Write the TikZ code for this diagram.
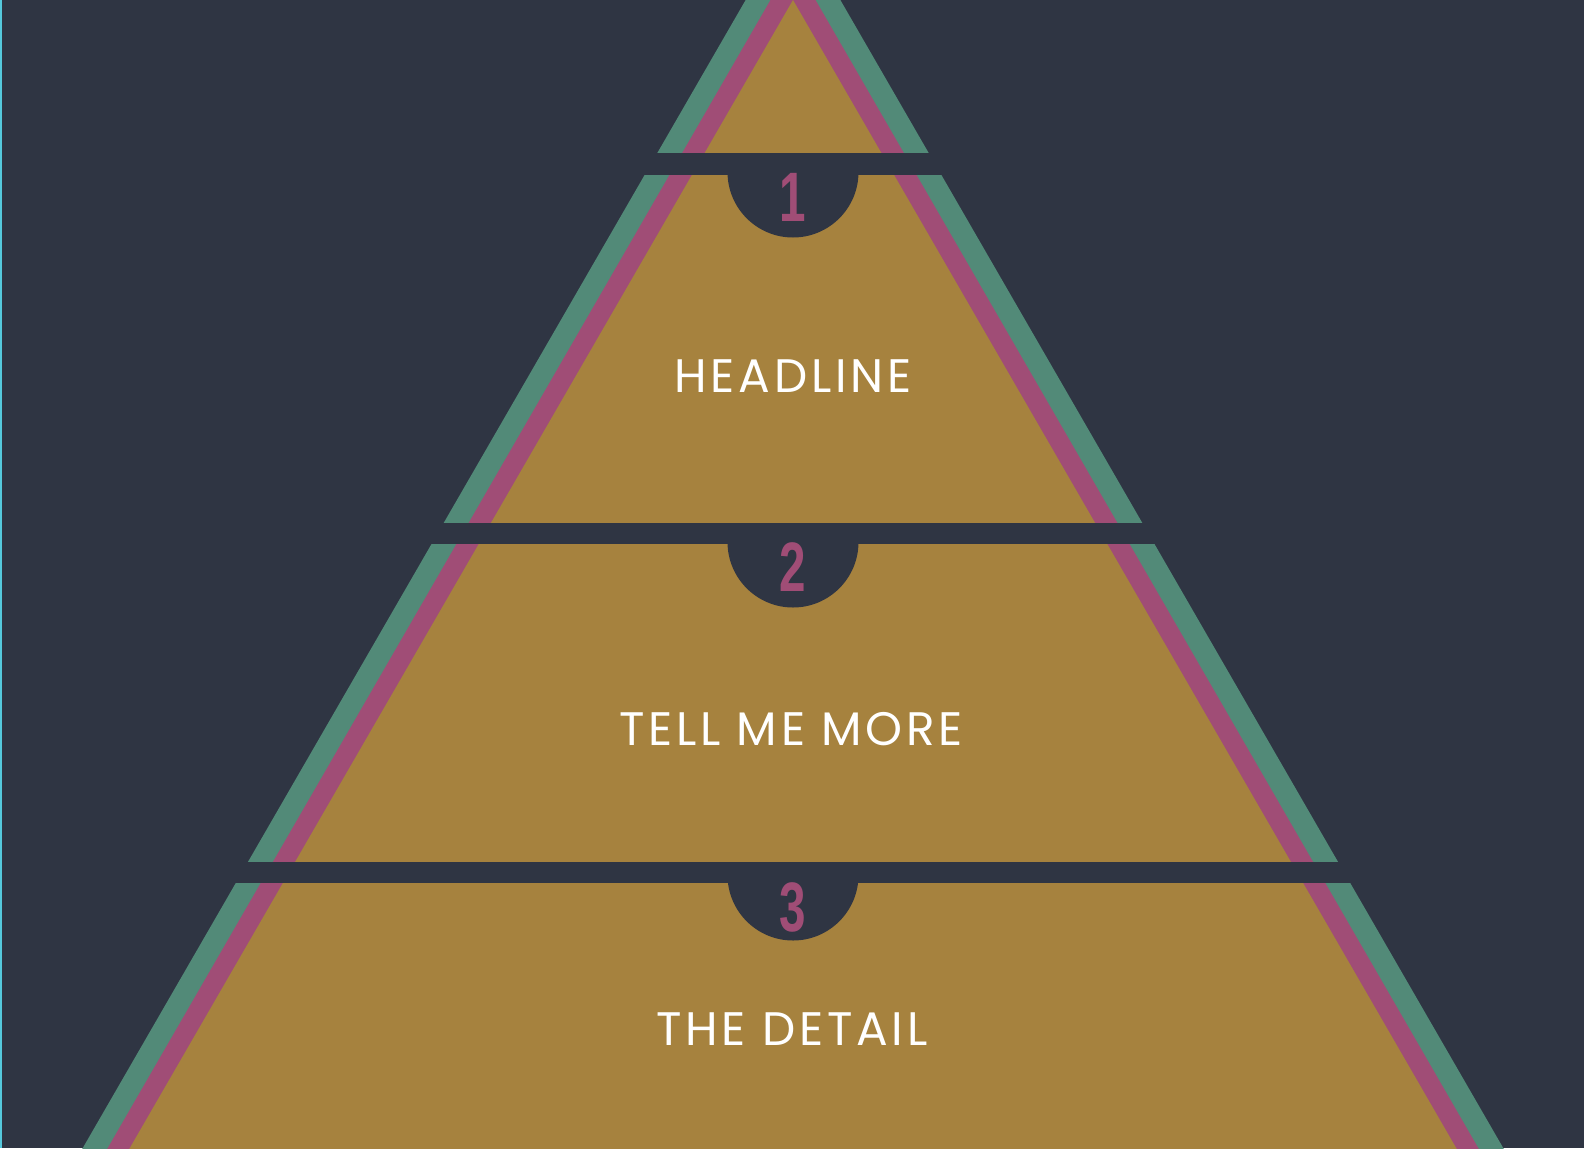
\documentclass[tikz,border=0pt]{standalone}
\usepackage{fontspec}
\usepackage{tikz}
\newfontfamily\labelfont[LetterSpace=8]{Poppins}
\newfontfamily\numfont{Liberation Sans Bold}
\definecolor{slate}{HTML}{2F3543}
\definecolor{sage}{HTML}{528A78}
\definecolor{plum}{HTML}{A04D76}
\definecolor{ochre}{HTML}{A6823E}
\definecolor{edgecyan}{HTML}{55C8DC}
\tikzset{
	bandtext/.style={anchor=base, text=white, inner sep=0pt, font=\labelfont\fontsize{47}{47}\selectfont},
	bandnum/.style={anchor=base, text=plum, inner sep=0pt, font=\numfont\fontsize{70}{70}\selectfont}
}

\begin{document}
\begin{tikzpicture}[x=1pt,y=-1pt]
	\useasboundingbox (0,0) rectangle (1584,1148);
	% background
	\fill [slate] (0,0) rectangle (1584,1148);
	\fill [edgecyan] (0,0) rectangle (2,1148);

	\begin{scope}
	\clip (2,0) rectangle (1584,1148);
	% triangles
	\fill [sage] (793,-82) -- (1591,1300) -- (-5,1300) -- cycle;
	\fill [plum] (793,-39) -- (1566,1300) -- (20,1300) -- cycle;
	\fill [ochre] (793,0) -- (1544,1300) -- (42,1300) -- cycle;
	% gaps
	\fill [slate] (0,153) rectangle (1584,175);
	\fill [slate] (0,523) rectangle (1584,544);
	\fill [slate] (0,862) rectangle (1584,883);
	% badges
	\fill [slate] (727.5,172) arc [start angle=180, end angle=0, radius=65.5] -- cycle;
	\fill [slate] (727.5,542) arc [start angle=180, end angle=0, radius=65.5] -- cycle;
	\fill [slate] (727.5,875) arc [start angle=180, end angle=0, radius=65.5] -- cycle;
	\end{scope}

	% numbers
	\node [bandnum] (num1) at (793,221) {\scalebox{0.68}[1]{1}};
	\node [bandnum] (num2) at (793,591) {\scalebox{0.68}[1]{2}};
	\node [bandnum] (num3) at (793,931) {\scalebox{0.68}[1]{3}};
	% label
	\node [bandtext] (headline) at (793,392) {HEADLINE};
	\node [bandtext] (more) at (791,745) {TELL ME MORE};
	\node [bandtext] (detail) at (792,1045) {THE DETAIL};
\end{tikzpicture}
\end{document}
